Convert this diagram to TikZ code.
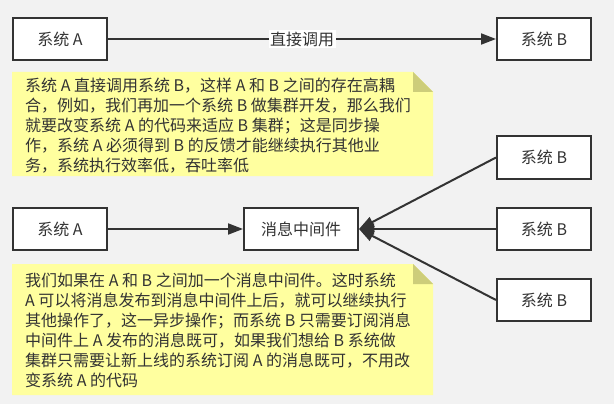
\documentclass[tikz,border=0pt]{standalone}
\usepackage{fontspec}
\setmainfont{Noto Sans CJK SC}
\usetikzlibrary{arrows.meta}
\definecolor{bggray}{HTML}{F2F2F2}
\definecolor{ink}{HTML}{333333}
\definecolor{notefill}{HTML}{FFFF9F}
\definecolor{notefold}{HTML}{CDCD7A}
\tikzset{
  sysbox/.style={draw=ink,line width=2pt,fill=white,minimum width=94pt,
    minimum height=42pt,inner sep=0pt,text=ink,font=\fontsize{16}{20}\selectfont},
  conn/.style={draw=ink,line width=2pt,-{Triangle[length=15pt,width=11pt]}},
  notetext/.style={anchor=north west,align=left,inner sep=0pt,text=ink,
    font=\fontsize{16}{20}\selectfont}
}
\begin{document}
\begin{tikzpicture}[x=1pt,y=-1pt]
  \useasboundingbox[fill=bggray] (0,0) rectangle (614,404);
  % direct call
  \node[sysbox] (topA) at (60,39) {系统 A};
  \node[sysbox] (topB) at (544,39) {系统 B};
  \draw[conn] (topA) -- node[fill=white,inner sep=1.5pt,text=ink,
    font=\fontsize{16}{20}\selectfont] (call) {直接调用} (topB);
  \fill[notefill] (12,72) -- (413,72) -- (433,92) -- (433,176) -- (12,176) -- cycle;
  \fill[notefold] (413,72) -- (433,92) -- (413,92) -- cycle;
  \node[notetext] (note1) at (25,77.5) {系统 A 直接调用系统 B，这样 A 和 B 之间的存在高耦\\
    合，例如，我们再加一个系统 B 做集群开发，那么我们\\
    就要改变系统 A 的代码来适应 B 集群；这是同步操\\
    作，系统 A 必须得到 B 的反馈才能继续执行其他业\\
    务，系统执行效率低，吞吐率低};
  % message middleware
  \node[sysbox] (midA) at (60,229) {系统 A};
  \node[sysbox,minimum width=114pt] (mq) at (301,229) {消息中间件};
  \node[sysbox] (b1) at (544,157.5) {系统 B};
  \node[sysbox] (b2) at (544,229) {系统 B};
  \node[sysbox] (b3) at (544,300) {系统 B};
  \draw[conn] (midA) -- (mq);
  \draw[conn] (b1.west) -- (mq.east);
  \draw[conn] (b2.west) -- (mq.east);
  \draw[conn] (b3.west) -- (mq.east);
  \fill[notefill] (12,264) -- (413,264) -- (433,284) -- (433,395) -- (12,395) -- cycle;
  \fill[notefold] (413,264) -- (433,284) -- (413,284) -- cycle;
  \node[notetext] (note2) at (25,272.5) {我们如果在 A 和 B 之间加一个消息中间件。这时系统\\
    A 可以将消息发布到消息中间件上后，就可以继续执行\\
    其他操作了，这一异步操作；而系统 B 只需要订阅消息\\
    中间件上 A 发布的消息既可，如果我们想给 B 系统做\\
    集群只需要让新上线的系统订阅 A 的消息既可，不用改\\
    变系统 A 的代码};
\end{tikzpicture}
\end{document}
